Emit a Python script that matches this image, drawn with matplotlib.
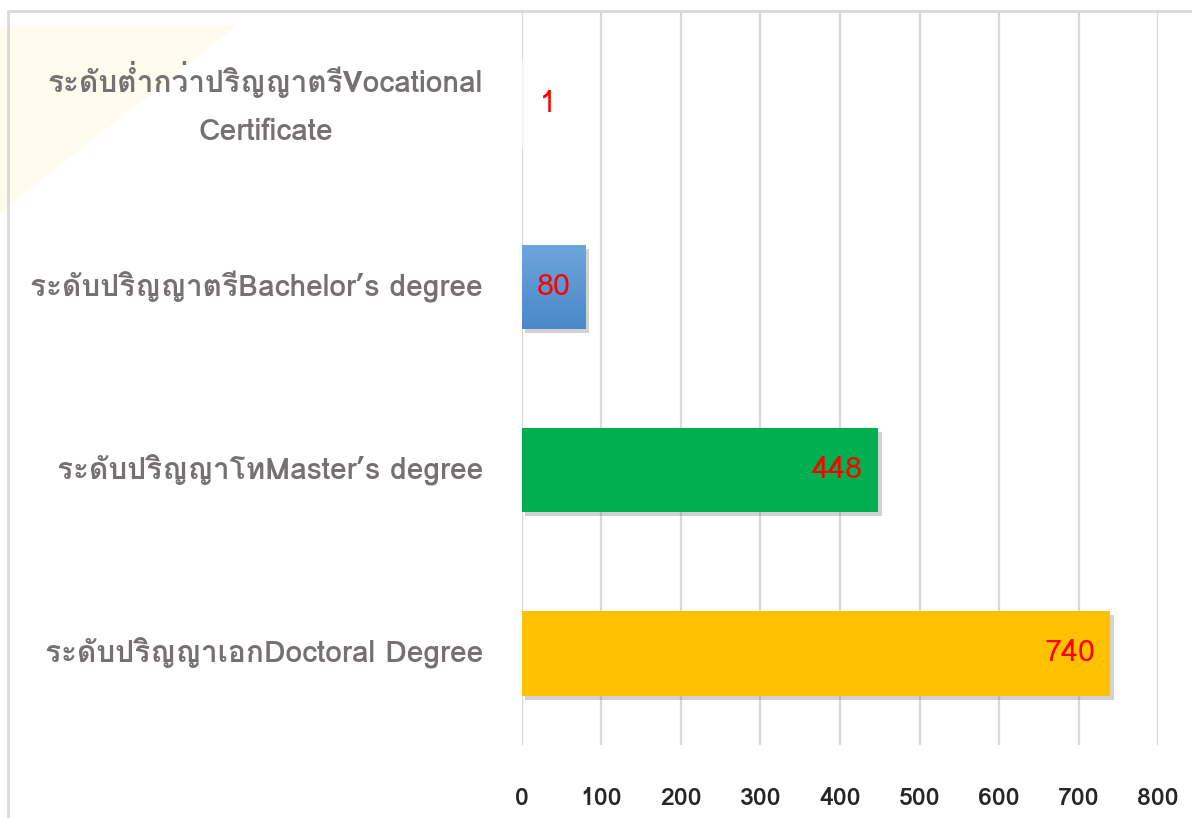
import matplotlib.pyplot as plt
import matplotlib.patheffects as pe
from matplotlib import font_manager
from matplotlib.ft2font import FT2Font
from matplotlib.patches import Rectangle, Polygon
from matplotlib.colors import LinearSegmentedColormap
import numpy as np

categories = [
    'ระดับปริญญาเอกDoctoral Degree',
    'ระดับปริญญาโทMaster\u2019s degree',
    'ระดับปริญญาตรีBachelor\u2019s degree',
    'ระดับต่ำกว่าปริญญาตรีVocational\nCertificate',
]
values = [740, 448, 80, 1]
colors = ['#FFC000', '#00B050', '#5B9BD5', '#F2F2F2']
xticks = [0, 100, 200, 300, 400, 500, 600, 700, 800]


# pick any installed font that can draw Thai
def thai_font():
    for f in font_manager.fontManager.ttflist:
        try:
            if ord('ร') in FT2Font(f.fname).get_charmap():
                return f.name
        except Exception:
            pass
    return None


tf = thai_font()
fam = [tf, 'DejaVu Sans'] if tf else ['DejaVu Sans']
plt.rcParams['font.family'] = fam

fig = plt.figure(figsize=(11.92, 8.18), dpi=100)
fig.patch.set_facecolor('white')

# faint warm wedge in the top-left corner
fig.patches.append(Polygon([[0.0, 0.74], [0.0, 0.97], [0.2, 0.97]], closed=True,
                           transform=fig.transFigure, facecolor='#FFF8E0',
                           edgecolor='none', alpha=0.5, zorder=-2))
# chart frame
fig.patches.append(Rectangle((0.007, -0.05), 1.1, 1.036, transform=fig.transFigure,
                             facecolor='none', edgecolor='#D9D9D9', lw=2, zorder=-1))

ax = fig.add_axes([0.4379, 0.0892, 0.5336, 0.8961])
ax.set_facecolor('none')
ax.set_zorder(2)

y = np.arange(len(categories))
bars = ax.barh(y, values, height=0.46, color=colors, zorder=3)
shadow = [pe.SimplePatchShadow(offset=(2.5, -3), shadow_rgbFace='#7F7F7F', alpha=0.35),
          pe.Normal()]
for b, v in zip(bars, values):
    if v > 20:
        b.set_path_effects(shadow)

# vertical gradient on the blue bar
b = bars[2]
x0, y0, w, h = b.get_x(), b.get_y(), b.get_width(), b.get_height()
grad = np.linspace(0, 1, 64).reshape(-1, 1)
cm = LinearSegmentedColormap.from_list('bl', ['#4A88C9', '#6EA6DC'])
im = ax.imshow(grad, extent=[x0, x0 + w, y0, y0 + h], origin='lower', cmap=cm,
               aspect='auto', zorder=3.5)
im.set_clip_path(b)

for v, yy in zip(values, y):
    if v < 20:
        ax.annotate(str(v), (v, yy), xytext=(12, 0), textcoords='offset points',
                    ha='left', va='center', color='#FF0000', fontsize=21, zorder=5)
    else:
        ax.annotate(str(v), (v, yy), xytext=(-11, 0), textcoords='offset points',
                    ha='right', va='center', color='#FF0000', fontsize=22, zorder=5)

ax.set_xlim(0, 800)
ax.set_ylim(-0.5, 3.5)
ax.set_xticks(xticks)
ax.set_xticklabels([str(t) for t in xticks], fontsize=18, color='#262626',
                   fontweight='bold')
ax.set_yticks(y)
ax.set_yticklabels(categories, fontsize=21.5, color='#767171', fontweight='bold',
                   multialignment='center', linespacing=1.9)
for lab in ax.get_yticklabels():
    lab.set_va('center')
ax.tick_params(axis='x', length=0, pad=30)
ax.tick_params(axis='y', length=0, pad=28)
ax.grid(axis='x', color='#D9D9D9', lw=1.6, zorder=0)
for s in ax.spines.values():
    s.set_visible(False)

fig.savefig('out.png', dpi=100, facecolor='white')
